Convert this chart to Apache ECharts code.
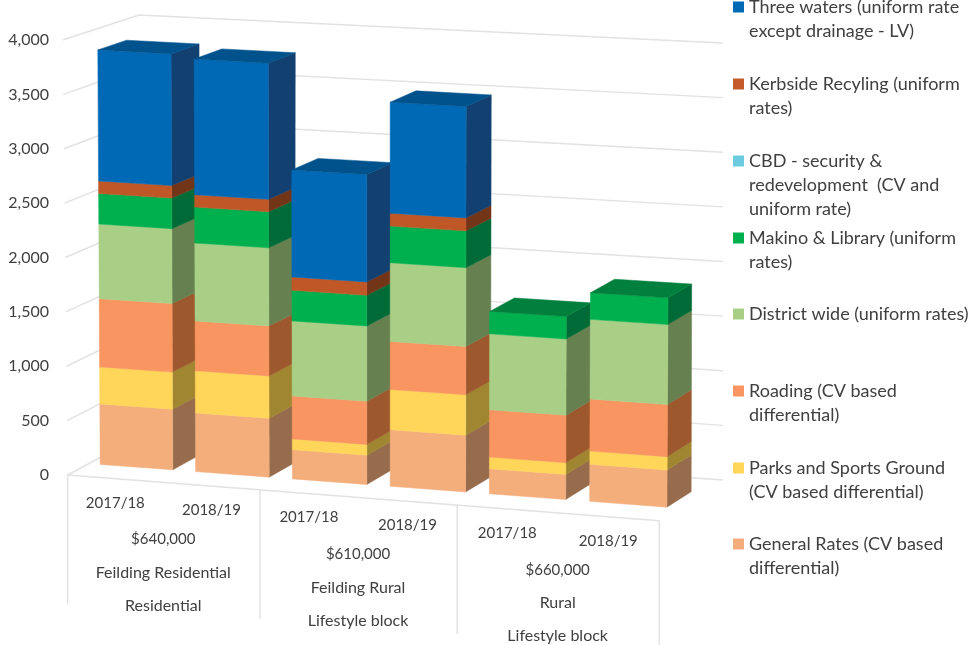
<!DOCTYPE html>
<html>
<head>
<meta charset="utf-8">
<style>
    html, body { margin: 0; padding: 0; background: #fff; }
    #chart { width: 971px; height: 645px; }
</style>
<script src="https://cdn.jsdelivr.net/npm/echarts@6/dist/echarts.min.js"></script>
</head>
<body>
<div id="chart"></div>
<script>
// bottom of the stack first
const seriesNames = [
    'General Rates (CV based differential)',
    'Parks and Sports Ground (CV based differential)',
    'Roading (CV based differential)',
    'District wide (uniform rates)',
    'Makino & Library (uniform rates)',
    'CBD - security & redevelopment  (CV and uniform rate)',
    'Kerbside Recyling (uniform rates)',
    'Three waters (uniform rate except drainage - LV)',
]
const legendLines = [
    ['General Rates (CV based', 'differential)'],
    ['Parks and Sports Ground', '(CV based differential)'],
    ['Roading (CV based', 'differential)'],
    ['District wide (uniform rates)'],
    ['Makino & Library (uniform', 'rates)'],
    ['CBD - security &', 'redevelopment  (CV and', 'uniform rate)'],
    ['Kerbside Recyling (uniform', 'rates)'],
    ['Three waters (uniform rate', 'except drainage - LV)'],
]
const generalRates = [560, 541, 268, 517, 228, 335]
const parksSports = [343, 390, 99, 369, 106, 121]
const roading = [633, 459, 395, 439, 431, 471]
const districtWide = [692, 719, 689, 719, 691, 722]
const makinoLibrary = [283, 332, 282, 336, 204, 241]
const cbdSecurity = [0, 0, 0, 0, 0, 0]
const kerbside = [116, 114, 122, 118, 0, 0]
const threeWaters = [1215, 1252, 983, 1015, 0, 0]
const seriesValues = [generalRates, parksSports, roading, districtWide, makinoLibrary, cbdSecurity, kerbside, threeWaters]

const periods = ['2017/18', '2018/19', '2017/18', '2018/19', '2017/18', '2018/19']
const prices = ['$640,000', '$610,000', '$660,000']
const places = ['Feilding Residential', 'Feilding Rural', 'Rural']
const landTypes = ['Residential', 'Lifestyle block', 'Lifestyle block']
const valueTicks = [0, 500, 1000, 1500, 2000, 2500, 3000, 3500, 4000]

const frontColors = ['#F4AE7C', '#FFD55A', '#F99560', '#A9CF87', '#00B04E', '#5BC8DC', '#C05726', '#0069B6']
const sideColors = ['#966C4C', '#A08630', '#9E582E', '#67804F', '#006B37', '#3A8090', '#733518', '#114071']
const topColors = ['#C38B63', '#CCAA48', '#C7774D', '#87A56C', '#00803C', '#4AA0B0', '#9A461E', '#00528C']
const legendColors = ['#F4AE7C', '#FFD55A', '#F99560', '#A9CF87', '#00B04E', '#6CCBDE', '#C55A2A', '#006AB5']
const legendCenters = [544, 468, 391, 314, 238, 161, 84, 7]

const textColor = '#404040'
const gridColor = '#E2E2E2'
const fontFamily = 'Lato'

const gridLeft = 68
const gridTop = 40
const gridWidth = 591
const gridHeight = 435
const barShare = 0.762
const barFront = 0.31
const barBack = 0.69
const lineHeight = 24
const foreshorten = 0.037

// corners of the 3d box on screen: [front/back][left/right][floor/ceiling]
const box = {
    fl0: [67.7, 475], fl1: [62.7, 40], fr0: [659.3, 520.7], fr1: [662.8, 74.7],
    bl0: [136, 438], bl1: [139, 15], br0: [723, 480], br1: [723, 43],
}

const lerp = (a, b, t) => a + (b - a) * t

// takes a point of the flat grid and a depth (0 front, 1 back wall), gives the screen point
const project = (point, depth) => {
    const flat = (point[0] - gridLeft) / gridWidth
    // the right end is nearer to the viewer so the categories widen a little
    const u = flat + foreshorten * flat * (flat - 1)
    const v = (gridTop + gridHeight - point[1]) / gridHeight
    return [0, 1].map((k) => {
        const front = lerp(lerp(box.fl0[k], box.fr0[k], u), lerp(box.fl1[k], box.fr1[k], u), v)
        const back = lerp(lerp(box.bl0[k], box.br0[k], u), lerp(box.bl1[k], box.br1[k], u), v)
        return lerp(front, back, depth)
    })
}

const totals = periods.map((p, i) => seriesValues.reduce((sum, values) => sum + values[i], 0))

const face = (points, color, z2) => ({
    type: 'polygon',
    z2,
    shape: { points },
    style: { fill: color, stroke: color, lineWidth: 0.5 },
})

const barSeries = seriesNames.map((name, s) => ({
    type: 'custom',
    name,
    itemStyle: { color: legendColors[s] },
    encode: { x: 0, y: [1, 2] },
    data: periods.map((p, i) => {
        let start = 0
        for (let k = 0; k < s; k++) start += seriesValues[k][i]
        return [i + 0.5, start, start + seriesValues[s][i], i]
    }),
    renderItem: (params, api) => {
        const center = api.value(0)
        const start = api.value(1)
        const end = api.value(2)
        const barIndex = api.value(3)
        if (end <= start) return
        const left = center - barShare / 2
        const right = center + barShare / 2
        const at = (x, y, depth) => project(api.coord([x, y]), depth)
        const z2 = (barIndex + 1) * 100 + s * 2
        const children = [
            face([at(right, start, barFront), at(right, start, barBack), at(right, end, barBack), at(right, end, barFront)], sideColors[s], z2),
            face([at(left, start, barFront), at(right, start, barFront), at(right, end, barFront), at(left, end, barFront)], frontColors[s], z2 + 1),
        ]
        if (end === totals[barIndex]) {
            children.push(face([at(left, end, barFront), at(right, end, barFront), at(right, end, barBack), at(left, end, barBack)], topColors[s], z2 + 1))
        }
        return { type: 'group', children }
    },
}))

// wall lines, one per tick
const wallSeries = {
    type: 'custom',
    silent: true,
    data: valueTicks.map((v) => [v]),
    encode: { y: 0 },
    renderItem: (params, api) => {
        const v = api.value(0)
        const points = [project(api.coord([0, v]), 0), project(api.coord([0, v]), 1), project(api.coord([6, v]), 1)]
        return {
            type: 'polyline',
            z2: 0,
            shape: { points },
            style: { fill: null, stroke: gridColor, lineWidth: 1.5 },
        }
    },
}

// front floor edge and the dividers between the groups
const dividerLength = 129
const dividers = [0, 2, 4, 6]
const floorSeries = {
    type: 'custom',
    silent: true,
    data: dividers.map((x) => [x]),
    encode: { x: 0 },
    renderItem: (params, api) => {
        const top = project(api.coord([api.value(0), 0]), 0)
        const children = [{
            type: 'line',
            z2: 0,
            shape: { x1: top[0], y1: top[1], x2: top[0], y2: top[1] + dividerLength },
            style: { stroke: gridColor, lineWidth: 1.5 },
        }]
        if (params.dataIndex === 0) {
            const end = project(api.coord([6, 0]), 0)
            children.push({
                type: 'line',
                z2: 0,
                shape: { x1: top[0], y1: top[1], x2: end[0], y2: end[1] },
                style: { stroke: gridColor, lineWidth: 1.5 },
            })
        }
        return { type: 'group', children }
    },
}

// multi level category labels hang under the sloping floor edge
const levelOffsets = [24, 57, 90, 123]
const levelFontSizes = [15, 15, 16, 16]
const labelRows = []
const labelTexts = []
periods.forEach((text, i) => {
    labelRows.push([i + 0.5, 0])
    labelTexts.push(text)
})
;[prices, places, landTypes].forEach((list, level) => {
    list.forEach((text, g) => {
        labelRows.push([g * 2 + 1, level + 1])
        labelTexts.push(text)
    })
})
const labelSeries = {
    type: 'custom',
    silent: true,
    data: labelRows,
    encode: { x: 0 },
    renderItem: (params, api) => {
        const p = project(api.coord([api.value(0), 0]), 0)
        return {
            type: 'text',
            z2: 1000,
            style: {
                text: labelTexts[params.dataIndex],
                x: p[0],
                y: p[1] + levelOffsets[api.value(1)],
                align: 'center',
                verticalAlign: 'middle',
                fill: textColor,
                font: `${levelFontSizes[api.value(1)]}px ${fontFamily}`,
            },
        }
    },
}

// one legend per entry, the blank lines keep the swatch level with the first line
const legends = seriesNames.map((name, s) => {
    const lines = legendLines[s]
    return {
        data: [name],
        left: 733,
        top: legendCenters[s] - (lines.length * 2 - 1) * lineHeight / 2,
        padding: 0,
        itemWidth: 11,
        itemHeight: 11,
        icon: 'rect',
        selectedMode: false,
        textStyle: { color: textColor, fontFamily, fontSize: 18, lineHeight },
        formatter: () => '\n'.repeat(lines.length - 1) + lines.join('\n'),
    }
})

const chart = echarts.init(document.getElementById('chart'))
chart.setOption({
    animation: false,
    backgroundColor: '#fff',
    legend: legends,
    grid: { left: gridLeft, top: gridTop, width: gridWidth, height: gridHeight },
    xAxis: { type: 'value', min: 0, max: 6, show: false },
    yAxis: {
        type: 'value',
        min: 0,
        max: 4000,
        interval: 500,
        axisLine: { show: false },
        axisTick: { show: false },
        splitLine: { show: false },
        axisLabel: {
            margin: 19,
            padding: [3, 0, 0, 0],
            color: textColor,
            fontFamily,
            fontSize: 16,
            formatter: (v) => v.toLocaleString('en-US'),
        },
    },
    series: [wallSeries, floorSeries, ...barSeries, labelSeries],
})
</script>
</body>
</html>
